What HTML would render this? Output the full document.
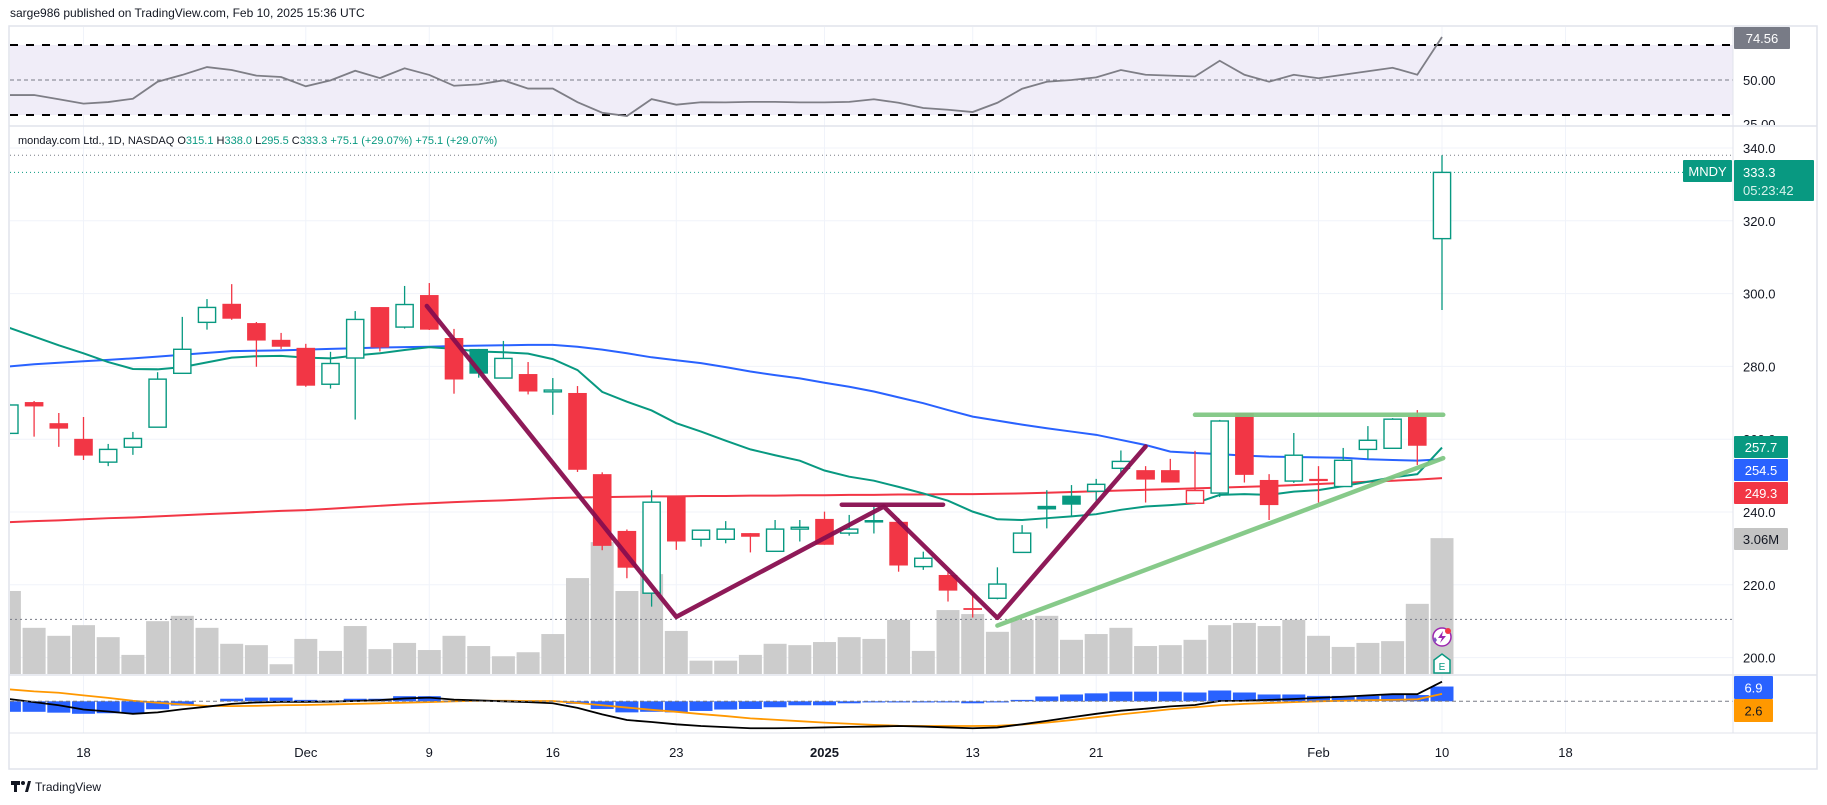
<!DOCTYPE html>
<html><head><meta charset="utf-8">
<style>
html,body{margin:0;padding:0;background:#fff;width:1827px;height:805px;overflow:hidden;font-family:"Liberation Sans",sans-serif;}
svg text{font-family:"Liberation Sans",sans-serif;}
</style></head>
<body>
<svg id="chart" width="1827" height="805" viewBox="0 0 1827 805" xmlns="http://www.w3.org/2000/svg">
<defs>
<clipPath id="plotClip"><rect x="10" y="127" width="1723" height="548"/></clipPath>
<clipPath id="rsiClip"><rect x="10" y="27" width="1723" height="99"/></clipPath>
<clipPath id="rsiAxisClip"><rect x="1733" y="27" width="90" height="98"/></clipPath>
<clipPath id="macdClip"><rect x="10" y="676" width="1723" height="57"/></clipPath>
</defs>
<text x="10" y="17" font-size="12" fill="#131722">sarge986 published on TradingView.com, Feb 10, 2025 15:36 UTC</text>
<rect x="9" y="26" width="1808" height="743" fill="none" stroke="#e0e3eb" stroke-width="1.5"/>
<g id="grid"></g>
<g id="rsi"></g>
<line x1="9" x2="1817" y1="126" y2="126" stroke="#e0e3eb" stroke-width="1.5"/>
<g id="vol" clip-path="url(#plotClip)"></g>
<g id="ma" clip-path="url(#plotClip)"></g>
<g id="candles" clip-path="url(#plotClip)"></g>
<g id="draw" clip-path="url(#plotClip)"></g>
<line x1="9" x2="1817" y1="675" y2="675" stroke="#e0e3eb" stroke-width="1.5"/>
<g id="macd"></g>
<g id="axes"></g>
<g id="labels"></g>
<text x="18" y="144" font-size="11" fill="#131722">monday.com Ltd., 1D, NASDAQ <tspan fill="#131722">O</tspan><tspan fill="#089981">315.1</tspan> <tspan fill="#131722">H</tspan><tspan fill="#089981">338.0</tspan> <tspan fill="#131722">L</tspan><tspan fill="#089981">295.5</tspan> <tspan fill="#131722">C</tspan><tspan fill="#089981">333.3 +75.1 (+29.07%) +75.1 (+29.07%)</tspan></text>
<g>
<rect x="11" y="781" width="9" height="4" fill="#131722"/><rect x="14" y="781" width="3" height="11" fill="#131722"/><circle cx="23" cy="783" r="2" fill="#131722"/><path d="M25 792 L28 781 L31 781 L28 792 Z" fill="#131722"/>
<text x="35" y="791" font-size="12" fill="#131722">TradingView</text>
</g>
<g>
<circle cx="1442" cy="637" r="9" fill="#fff" stroke="#9c27b0" stroke-width="1.5"/>
<path d="M1443 631 L1438 638 L1442 638 L1440 643 L1446 636 L1442 636 Z" fill="#9c27b0"/>
<circle cx="1448" cy="631" r="3" fill="#f23645"/>
<path d="M1433 640 l2 -3 l2 3 l-2 3 z" fill="#7e57c2"/>
<path d="M1434 673 L1434 660 L1442 654 L1450 660 L1450 673 Z" fill="#fff" stroke="#089981" stroke-width="1.5"/>
<text x="1442" y="670" font-size="10" text-anchor="middle" fill="#089981">E</text>
</g>
</svg>
<script>
// ---- data (oldest -> newest), Nov 12 2024 .. Feb 10 2025 ----
const dateTicks = ["18","Dec","9","16","23","2025","13","21","Feb","10","18"];
const dateTickIdx = [3,12,17,22,27,33,39,44,53,58,63];
const priceTicks = [340,320,300,280,260,240,220,200];
const open = [261.6,270.2,264.4,260.1,253.7,257.8,263.3,278.1,292.1,297.2,291.9,287.3,285.1,275.1,282.3,296.3,290.8,299.6,287.8,284.8,276.8,277.9,273.4,272.7,250.4,234.8,217.7,244.2,232.5,232.5,234.2,229.2,235.6,238.1,234.2,237.8,237.3,225,222.7,213.6,216.3,228.9,241.7,244.5,245.7,252,251.5,251.5,242.4,245.2,267.2,248.8,248.5,249.1,247,257.2,257.5,266.1,315.1];
const high = [270,270.5,267.2,266.1,258.7,262,278.4,293.6,298.5,302.6,292.2,289.2,286.2,284,295.2,296.3,302.1,302.9,290.3,284.8,287,281.2,276.8,274.6,250.9,235.2,246,244.2,235,237.5,234.2,237.8,237.8,240.1,239.2,241.5,238.3,229.1,224,217.5,224.8,236.4,246,247.4,249.1,256.9,252.6,254.6,256.8,265.3,267.2,250.4,261.7,252.6,257.6,263.6,265.8,268,338];
const low = [261,260.7,257.9,254.3,252.6,255.7,263.3,278.1,290.1,292.8,279.9,284.8,274.4,273.9,265.4,284.1,290.4,290,272.5,276.9,276.8,272.3,266.7,251,229.5,221.8,214,229.6,230.5,231.4,228.9,229.2,231.9,231,233.5,234.1,223.6,224.1,215.4,211,216,228.9,235.5,239,243.1,250.8,242.6,248.1,242.4,244.1,248.1,237.8,248,242.6,247,254.5,257.5,252.9,295.5];
const close = [269.4,269,262.9,255.5,257.2,260.2,276.5,284.7,296.2,293.1,287.1,285.4,274.7,280.8,292.9,285.2,297,290.1,276.4,278,282.2,273.1,273.5,251.6,230.7,224.7,242.7,231.9,235,235.3,233.2,235.3,235.8,231,235.3,237.1,225.3,227.3,218.4,213.2,220.2,234.2,240.7,242,247.6,253.9,248.9,248.1,245.9,265,250.2,241.9,255.6,248.5,254.2,259.7,265.5,258.2,333.3];
const volumeM = [1.87,1.04,0.86,1.1,0.83,0.43,1.19,1.31,1.04,0.68,0.65,0.22,0.79,0.52,1.08,0.56,0.7,0.54,0.86,0.63,0.4,0.49,0.9,2.16,2.97,1.87,2.25,0.97,0.3,0.3,0.43,0.68,0.65,0.72,0.83,0.79,1.22,0.52,1.44,1.35,0.95,1.22,1.31,0.77,0.9,1.04,0.63,0.65,0.77,1.1,1.15,1.08,1.22,0.86,0.61,0.7,0.74,1.58,3.06];
const volAvgM = 1.23;
const ma20 = [290.6,288.2,285.8,283.6,281.2,279.3,279.2,279.8,281.1,282.4,282.8,282.9,282.4,282.2,283,283.6,284.5,285.3,284.8,284.1,283.9,283.5,282,279,273,270.3,267.9,264.4,262.1,259.6,257.2,255.6,254.1,251.4,249.7,248.6,246.9,245.1,243.1,240.1,238,237.8,238.3,238.8,239.4,240.6,241.5,241.9,242.4,244.7,244.9,244.7,245.6,246,247.1,248.3,249.5,250.4,257.7];
const ma50 = [280,280.6,281,281.4,281.8,282.2,282.7,283.2,283.7,284.2,284.3,284.4,284.6,284.8,285,285.2,285.3,285.4,285.6,285.7,285.8,285.9,285.9,285.4,284.6,283.6,282.5,281.7,280.9,279.8,278.6,277.6,276.7,275.5,274.4,273.1,271.5,269.9,268,266.2,265.1,264,263,262.1,261.2,259.8,258.4,256.6,256.2,255.9,255.5,255.2,255.1,255,254.9,254.5,254.3,254.1,254.5];
const ma200 = [237.2,237.5,237.7,238,238.3,238.5,238.8,239.1,239.4,239.7,240,240.3,240.5,240.9,241.3,241.7,242.1,242.4,242.7,243,243.2,243.5,243.8,244,244.1,244.2,244.3,244.3,244.4,244.4,244.5,244.5,244.6,244.6,244.7,244.7,244.8,244.8,244.9,244.9,245,245.1,245.3,245.5,245.7,245.9,246.1,246.3,246.5,246.7,246.9,247.1,247.4,247.7,248,248.3,248.6,248.9,249.3];
const rsiVals = [41.4,41.4,39,36.5,37.4,39.3,49,52.9,57.4,55.7,52.5,51.7,46.4,49.8,55.3,51.1,56.7,52.9,46.7,47.5,49.8,45.1,45.1,37.3,31.3,29.4,39.1,35.9,37.3,37.2,37.5,37.5,37.2,37.2,37.5,39,37,34,33,31.7,37,45,49,50,51.5,55.7,53,52.5,52,61,53,49,53,51,53,55,57,53,74.56];
const macdLine = [0.8,-0.3,-1.4,-2.9,-3.6,-4.4,-3.9,-2.8,-1.9,-0.9,-0.4,-0.2,-0.2,-0.1,0.1,0.4,1.0,1.3,0.6,0.3,0,-0.3,-0.7,-2.3,-4.6,-6.6,-7.3,-8.1,-8.7,-9.1,-9.5,-9.5,-9.4,-9.2,-9.0,-8.9,-8.7,-8.9,-9.2,-9.5,-9.2,-8.1,-6.9,-5.6,-4.4,-3.3,-2.6,-1.8,-1.3,0.1,0.2,0.5,0.8,1.2,1.6,2.1,2.5,2.5,6.9];
const signalLine = [4.2,3.5,3.0,2.1,1.2,0.2,-0.5,-1.1,-1.6,-1.7,-1.6,-1.4,-1.3,-1.1,-0.9,-0.7,-0.5,-0.3,0,0.2,0.2,0.1,0.1,-0.6,-1.4,-2.2,-3.0,-3.7,-4.5,-5.2,-6.0,-6.5,-7.0,-7.5,-7.9,-8.3,-8.6,-8.7,-8.7,-8.7,-8.6,-8.2,-7.5,-6.6,-5.6,-4.6,-3.7,-2.8,-2.1,-1.4,-0.9,-0.6,-0.3,0,0.2,0.4,0.5,0.7,2.6];
const macdHist = [-3.7,-3.7,-4.0,-4.4,-4.2,-4.2,-2.8,-1.5,0,0.9,1.3,1.3,0.5,0.3,0.9,0.9,1.8,1.8,0.3,0.3,0.1,0,0,-0.9,-2.7,-3.9,-3.7,-3.9,-3.4,-2.9,-2.7,-2.1,-1.4,-1.4,-0.7,-0.4,-0.4,-0.4,-0.4,-0.7,-0.4,0.5,1.7,2.4,2.8,3.4,3.4,3.4,3.1,3.8,3.1,2.4,2.4,1.9,1.9,1.9,2.4,2.2,5.2];
// drawings: [bar index, price]
const purpleZigzag = [[16.9,296.6],[27,211.2],[35.4,241.5],[40,210.9],[46,258]];
const purpleFlat = [[33.7,242],[37.8,242]];
const greenFlat = [[48,266.7],[58.05,266.7]];
const greenRising = [[40,208.8],[58.05,254.8]];

// ---- axes ----
const N = close.length;
const SP = 24.7;
const X = k => 1442 - SP*(N-1-k);
const Y = p => 148 + (340-p)*3.64;
const VY = v => 674 - v*44.4;
const RY = r => 80 - (r-50)*1.75;
const MY = m => 701.3 - m*2.84;
const NS = "http://www.w3.org/2000/svg";
function mk(parent, tag, attrs){
  const el = document.createElementNS(NS, tag);
  for (const k in attrs) el.setAttribute(k, attrs[k]);
  parent.appendChild(el);
  return el;
}
const G = id => document.getElementById(id);
const GREEN="#089981", RED="#f23645";

// grid
const grid = G('grid');
dateTickIdx.forEach((k,j)=>{
  const l = mk(grid,'line',{x1:X(k),x2:X(k),y1:27,y2:733,stroke:'#f0f3fa','stroke-width':1});
  
  
});
priceTicks.forEach(p=>{
  const l = mk(grid,'line',{x1:10,x2:1733,y1:Y(p),y2:Y(p),stroke:'#f0f3fa','stroke-width':1});
  
  
});

// RSI
const rsi = G('rsi');
const band = mk(rsi,'rect',{x:10,y:RY(70),width:1723,height:RY(30)-RY(70),fill:'#f0edf8'});


[70,30].forEach(v=>{
  const l = mk(rsi,'line',{x1:10,x2:1733,y1:RY(v),y2:RY(v),stroke:'#000','stroke-width':2,'stroke-dasharray':'8,8'});
  
  
});
const mid = mk(rsi,'line',{x1:10,x2:1733,y1:RY(50),y2:RY(50),stroke:'#787b86','stroke-width':1,'stroke-dasharray':'4,3'});


const rsiPath = mk(rsi,'polyline',{points:rsiVals.map((v,k)=>X(k)+','+RY(v)).join(' '),fill:'none',stroke:'#7e7e86','stroke-width':1.8,'clip-path':'url(#rsiClip)'});



// volume
const vol = G('vol');
volumeM.forEach((v,k)=>{
  const r = mk(vol,'rect',{x:X(k)-11.5,y:VY(v),width:23,height:674-VY(v),fill:'#cccccc'});
  
  
});
const va = mk(vol,'line',{x1:10,x2:1733,y1:VY(volAvgM),y2:VY(volAvgM),stroke:'#787b86','stroke-width':1,'stroke-dasharray':'2,3'});



// MAs
const ma = G('ma');
[[ma200,'#f23645','ma-200-line'],[ma50,'#2962ff','ma-50-line'],[ma20,'#089981','ma-20-line']].forEach(([arr,c,n])=>{
  const p = mk(ma,'polyline',{points:arr.map((v,k)=>X(k)+','+Y(v)).join(' '),fill:'none',stroke:c,'stroke-width':2});
  
  
});
// price dotted lines
const hl = mk(ma,'line',{x1:10,x2:1733,y1:Y(high[N-1]),y2:Y(high[N-1]),stroke:'#787b86','stroke-width':1,'stroke-dasharray':'1,3'});


const cl = mk(ma,'line',{x1:10,x2:1733,y1:Y(close[N-1]),y2:Y(close[N-1]),stroke:GREEN,'stroke-width':1,'stroke-dasharray':'1,3'});



// candles
const cg = G('candles');
for (let k=0;k<N;k++){
  const up = k===0 ? true : close[k] >= close[k-1];
  const hollow = close[k] > open[k];
  const col = up ? GREEN : RED;
  const x = X(k);
  const top = Y(Math.max(open[k],close[k])), bot = Y(Math.min(open[k],close[k]));
  const g = mk(cg,'g',{});
  
  
  mk(g,'line',{x1:x,x2:x,y1:Y(high[k]),y2:Y(low[k]),stroke:col,'stroke-width':1.3});
  const h = Math.max(bot-top,1.8);
  if (hollow) mk(g,'rect',{x:x-8.6,y:top,width:17.2,height:h,fill:'#fff',stroke:col,'stroke-width':1.4});
  else mk(g,'rect',{x:x-9.3,y:top,width:18.6,height:h,fill:col});
}

// drawings
const dg = G('draw');
function poly(pts,color,name){
  const p = mk(dg,'polyline',{points:pts.map(([k,v])=>X(k)+','+Y(v)).join(' '),fill:'none',stroke:color,'stroke-width':4.5,'stroke-linecap':'round','stroke-linejoin':'round','stroke-opacity':0.95});
  
  
}
poly(purpleZigzag,'#880e4f','purple-zigzag-trendline');
poly(purpleFlat,'#880e4f','purple-resistance-line');
poly(greenFlat,'#81c784','green-resistance-line');
poly(greenRising,'#81c784','green-rising-support-line');

// MACD
const mg = G('macd');
const mc = mk(mg,'g',{'clip-path':'url(#macdClip)'});
macdHist.forEach((v,k)=>{
  const y0 = MY(0), y1 = MY(v);
  const r = mk(mc,'rect',{x:X(k)-11.5,y:Math.min(y0,y1),width:23,height:Math.abs(y1-y0),fill:'#2962ff'});
  
  
});
const z = mk(mg,'line',{x1:10,x2:1733,y1:MY(0),y2:MY(0),stroke:'#787b86','stroke-width':1,'stroke-dasharray':'4,3'});


const sl = mk(mc,'polyline',{points:signalLine.map((v,k)=>X(k)+','+MY(v)).join(' '),fill:'none',stroke:'#ff9800','stroke-width':1.8});


const ml = mk(mc,'polyline',{points:macdLine.map((v,k)=>X(k)+','+MY(v)).join(' '),fill:'none',stroke:'#000','stroke-width':1.8});



// axes + labels
const ax = G('axes');
const axl = mk(ax,'line',{x1:1733,x2:1733,y1:27,y2:733,stroke:'#e0e3eb','stroke-width':1});


const bl = mk(ax,'line',{x1:9,x2:1817,y1:733,y2:733,stroke:'#e0e3eb','stroke-width':1});


const lb = G('labels');
function txt(x,y,s,opts){
  const t = mk(lb,'text',Object.assign({x:x,y:y,'font-size':13,fill:'#131722'},opts||{}));
  t.textContent = s;
  return t;
}
dateTicks.forEach((s,j)=>{
  const t = txt(X(dateTickIdx[j]),757,s,{'text-anchor':'middle','font-weight':s==='2025'?'bold':'normal'});
  
  
});
priceTicks.forEach(p=>{
  const t = txt(1743,Y(p)+5,p.toFixed(1));
  
  
});
const rg = mk(lb,'g',{'clip-path':'url(#rsiAxisClip)'});
[[50,'50.00'],[25,'25.00']].forEach(([v,s])=>{
  const t = mk(rg,'text',{x:1743,y:RY(v)+5,'font-size':13,fill:'#131722'});
  t.textContent = s;
  
  
});
function box(x,y,w,h,bg,s,fg,name,opts){
  const g = mk(lb,'g',{});
  
  
  mk(g,'rect',{x:x,y:y,width:w,height:h,fill:bg,rx:1});
  const t = mk(g,'text',Object.assign({x:x+w/2,y:y+h/2+5,'font-size':13,fill:fg,'text-anchor':'middle'},opts||{}));
  t.textContent = s;
  return g;
}
box(1734,27,56,22,'#787b86',rsiVals[N-1].toFixed(2),'#fff','rsi-value-label');
box(1683,160,49,22,GREEN,'MNDY','#fff','ticker-label');
const pb = box(1734,160,80,41,GREEN,'','#fff','last-price-label');
const t1 = mk(pb,'text',{x:1743,y:177,'font-size':13,fill:'#fff'}); t1.textContent = close[N-1].toFixed(1);
const t2 = mk(pb,'text',{x:1743,y:195,'font-size':13,fill:'#d8f2ec'}); t2.textContent = '05:23:42';
box(1734,436,54,22,GREEN,ma20[N-1].toFixed(1),'#fff','ma-20-value-label');
box(1734,459,54,22,'#2962ff',ma50[N-1].toFixed(1),'#fff','ma-50-value-label');
box(1734,482,54,22,RED,ma200[N-1].toFixed(1),'#fff','ma-200-value-label');
box(1734,528,54,22,'#c4c4c4',volumeM[N-1].toFixed(2)+'M','#131722','volume-value-label');
box(1734,676,39,23,'#2962ff',macdLine[N-1].toFixed(1),'#fff','macd-value-label');
box(1734,699,39,23,'#ff9800',signalLine[N-1].toFixed(1),'#131722','signal-value-label');
</script>
</body></html>
